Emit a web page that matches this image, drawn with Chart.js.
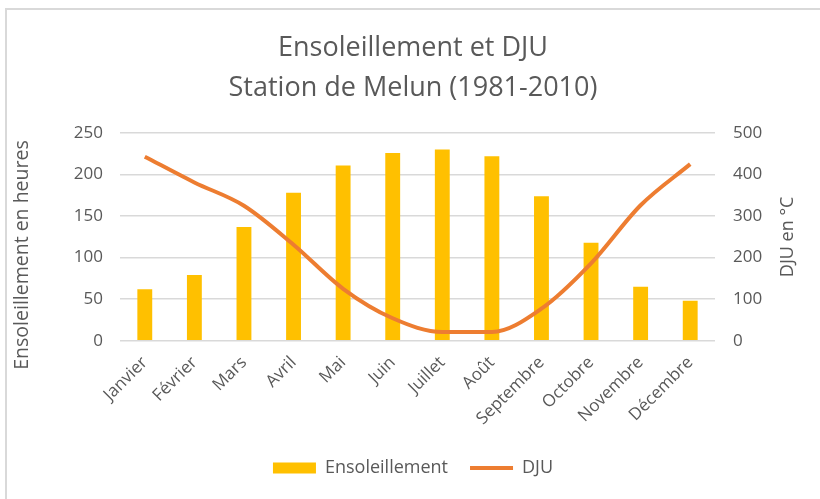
<!DOCTYPE html>
<html>
<head>
<meta charset="utf-8">
<script src="https://cdn.jsdelivr.net/npm/chart.js@4"></script>
<style>
    body { margin: 0; background: #ffffff; overflow: hidden; }
    #frame { position: absolute; left: 5px; top: 8px; width: 900px; height: 600px; border: 2px solid #d9d9d9; }
    #chart { position: absolute; left: 0; top: 0; }
</style>
</head>
<body>
<div id="frame"></div>
<canvas id="chart" width="820" height="499"></canvas>
<script>
const months = ["Janvier", "Février", "Mars", "Avril", "Mai", "Juin", "Juillet", "Août", "Septembre", "Octobre", "Novembre", "Décembre"];
const ensoleillement = [62, 79, 137, 178, 211, 226, 230, 222, 174, 118, 65, 48];
const dju = [443, 381, 325, 231, 125, 54, 21, 21, 77, 186, 326, 425];

const textColor = "#595959";
const font = "'Open Sans', sans-serif";

// axis titles drawn by hand, both read bottom-to-top like Excel
const axisTitles = {
    id: "axisTitles",
    afterDraw(chart) {
        const ctx = chart.ctx;
        const area = chart.chartArea;
        const draw = (text, x, y, size) => {
            ctx.save();
            ctx.translate(x, y);
            ctx.rotate(-Math.PI / 2);
            ctx.font = size + "px " + font;
            ctx.fillStyle = textColor;
            ctx.textAlign = "center";
            ctx.textBaseline = "middle";
            ctx.fillText(text, 0, 0);
            ctx.restore();
        };
        draw("Ensoleillement en heures", 22, 255, 19.5);
        draw("DJU en °C", area.right + 73, (area.top + area.bottom) / 2, 18);
    }
};

new Chart(document.getElementById("chart"), {
    type: "bar",
    data: {
        labels: months,
        datasets: [{
            label: "Ensoleillement",
            data: ensoleillement,
            backgroundColor: "#FFC000",
            barPercentage: 0.3,
            categoryPercentage: 1,
            pointStyle: "rect",
            yAxisID: "y",
            order: 1
        }, {
            type: "line",
            label: "DJU",
            data: dju,
            borderColor: "#ED7D31",
            backgroundColor: "#ED7D31",
            borderWidth: 4,
            pointRadius: 0,
            pointStyle: "line",
            pointBorderColor: "#ED7D31",
            pointBorderWidth: 4,
            cubicInterpolationMode: "monotone",
            yAxisID: "y1",
            order: 0
        }]
    },
    options: {
        responsive: false,
        animation: false,
        layout: {
            padding: { left: 6, right: 0, top: 0, bottom: 12 }
        },
        scales: {
            x: {
                grid: { display: false },
                border: { display: false },
                ticks: {
                    minRotation: 45,
                    maxRotation: 45,
                    padding: 4,
                    font: { family: font, size: 17 },
                    color: textColor
                },
                afterFit(scale) { scale.height += 4; }
            },
            y: {
                position: "left",
                min: 0,
                max: 250,
                ticks: {
                    stepSize: 50,
                    padding: 17,
                    font: { family: font, size: 17 },
                    color: textColor
                },
                grid: { color: "#d9d9d9", lineWidth: 1.5, drawTicks: false },
                border: { display: false },
                afterFit(scale) { scale.width = 114; }
            },
            y1: {
                position: "right",
                min: 0,
                max: 500,
                ticks: {
                    stepSize: 100,
                    padding: 18,
                    font: { family: font, size: 17 },
                    color: textColor
                },
                grid: { display: false, drawTicks: false },
                border: { display: false },
                afterFit(scale) { scale.width = 105; }
            }
        },
        plugins: {
            title: {
                display: true,
                text: ["Ensoleillement et DJU", "Station de Melun (1981-2010)"],
                font: { family: font, size: 27, weight: "normal", lineHeight: 1.5 },
                color: textColor,
                padding: { top: 28, bottom: 24 }
            },
            legend: {
                position: "bottom",
                labels: {
                    usePointStyle: true,
                    pointStyleWidth: 43,
                    boxHeight: 11,
                    padding: 22,
                    font: { family: font, size: 18 },
                    color: textColor,
                    sort: (a, b) => a.datasetIndex - b.datasetIndex
                }
            },
            tooltip: { enabled: false }
        }
    },
    plugins: [axisTitles]
});
</script>
</body>
</html>
